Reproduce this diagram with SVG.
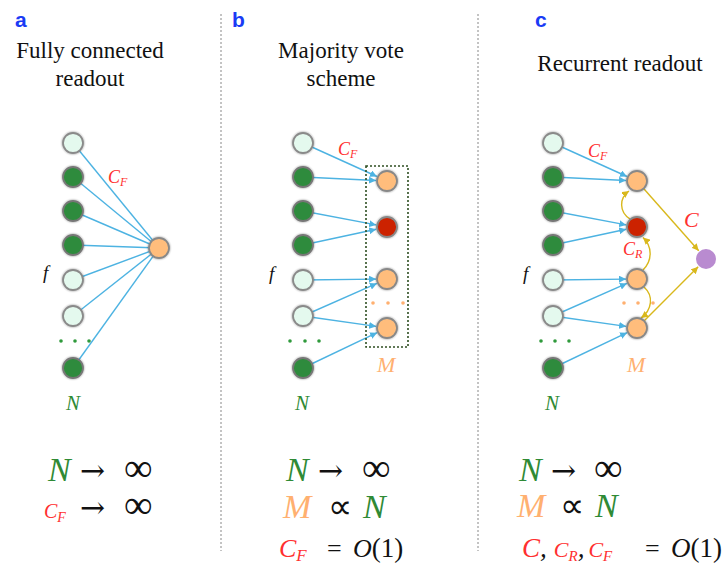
<svg xmlns="http://www.w3.org/2000/svg" width="725" height="565" viewBox="0 0 725 565">
<style>
.title{font-size:23px;fill:#111;text-anchor:middle}
.lab{font-size:21px;font-weight:bold;fill:#1a3bf5}
.m{font-style:italic}
.sym{font-style:normal;fill:#111}
.up{font-style:normal;fill:#111}
.red{fill:#ff3030}
.grn{fill:#2f8a35}
.org{fill:#ffb070}
.blk{fill:#111}
.light{fill:#e4f9ee;stroke:#8a8a8a;stroke-width:1.8}
.dark{fill:#2e8b3c;stroke:#777;stroke-width:1.8}
.orange{fill:#ffbd7c;stroke:#888;stroke-width:1.8}
.rednode{fill:#cc2200;stroke:#888;stroke-width:1.8}
.purple{fill:#b98bd0}
.blue{stroke:#4db3e2;stroke-width:1.4;fill:none}
.bluea{stroke:#4db3e2;stroke-width:1.4;fill:none;marker-end:url(#ab)}
.yel{stroke:#d9b81c;stroke-width:1.4;fill:none;marker-end:url(#ay)}
.div{stroke:#888;stroke-width:1;stroke-dasharray:2 2}
.gdot{fill:#2f9a3c}
.odot{fill:#ffb070}
</style>
<defs>
<filter id="sh" x="-50%" y="-50%" width="200%" height="200%">
<feGaussianBlur in="SourceAlpha" stdDeviation="1.3"/>
<feComponentTransfer><feFuncA type="linear" slope="0.45"/></feComponentTransfer>
<feMerge><feMergeNode/><feMergeNode in="SourceGraphic"/></feMerge>
</filter>
<marker id="ab" viewBox="0 0 10 10" refX="10" refY="5" markerWidth="7" markerHeight="7" markerUnits="userSpaceOnUse" orient="auto"><path d="M0,0 L10,5 L0,10 z" fill="#4db3e2"/></marker>
<marker id="ay" viewBox="0 0 10 10" refX="10" refY="5" markerWidth="7" markerHeight="7" markerUnits="userSpaceOnUse" orient="auto"><path d="M0,0 L10,5 L0,10 z" fill="#d9b81c"/></marker>
</defs>
<rect width="725" height="565" fill="#fff"/>

<!-- dividers -->
<line class="div" x1="221" y1="14" x2="221" y2="551"/>
<line class="div" x1="478" y1="14" x2="478" y2="551"/>

<!-- panel labels and titles -->
<g font-family="Liberation Sans, Arial, sans-serif">
<text class="lab" x="15" y="27">a</text>
<text class="lab" x="232" y="27">b</text>
<text class="lab" x="535" y="27">c</text>
</g>
<g font-family="Liberation Serif, Times New Roman, serif">
<text class="title" x="90" y="58">Fully connected</text>
<text class="title" x="90" y="86">readout</text>
<text class="title" x="341" y="58">Majority vote</text>
<text class="title" x="341" y="86">scheme</text>
<text class="title" x="620" y="71">Recurrent readout</text>
</g>

<!-- connectors -->
<g id="connectors">
<g id="conn-a">
<line class="blue" x1="73" y1="143" x2="159" y2="248"/>
<line class="blue" x1="73" y1="177" x2="159" y2="248"/>
<line class="blue" x1="73" y1="211" x2="159" y2="248"/>
<line class="blue" x1="73" y1="245" x2="159" y2="248"/>
<line class="blue" x1="73" y1="280" x2="159" y2="248"/>
<line class="blue" x1="73" y1="316" x2="159" y2="248"/>
<line class="blue" x1="73" y1="368" x2="159" y2="248"/>
</g>
<g id="conn-b">
<line class="bluea" x1="303" y1="143" x2="377" y2="176.5"/>
<line class="bluea" x1="303" y1="177" x2="376" y2="180.5"/>
<line class="bluea" x1="303" y1="211" x2="376.2" y2="224.9"/>
<line class="bluea" x1="303" y1="245" x2="376.2" y2="229.3"/>
<line class="bluea" x1="303" y1="280" x2="376" y2="279.1"/>
<line class="bluea" x1="303" y1="316" x2="376.9" y2="283.4"/>
<line class="bluea" x1="303" y1="316" x2="376.1" y2="326.4"/>
<line class="bluea" x1="303" y1="368" x2="377.1" y2="332.7"/>
</g>
<g id="conn-c">
<line class="bluea" x1="553" y1="143" x2="627" y2="176.5"/>
<line class="bluea" x1="553" y1="177" x2="626" y2="180.5"/>
<line class="bluea" x1="553" y1="211" x2="626.2" y2="224.9"/>
<line class="bluea" x1="553" y1="245" x2="626.2" y2="229.3"/>
<line class="bluea" x1="553" y1="280" x2="626" y2="279.1"/>
<line class="bluea" x1="553" y1="316" x2="626.9" y2="283.4"/>
<line class="bluea" x1="553" y1="316" x2="626.1" y2="326.4"/>
<line class="bluea" x1="553" y1="368" x2="627.1" y2="332.7"/>
<line class="yel" x1="643.6" y1="188.5" x2="698.7" y2="250.8"/>
<line class="yel" x1="644" y1="321" x2="698.2" y2="266.8"/>
<path class="yel" d="M630,219 C619,212 619,198 629,191"/>
<path class="yel" d="M643,270 C653,260 652,246 643,237.5"/>
<path class="yel" d="M644,287 C654,296 652,310 641,318"/>
</g>
</g>

<!-- panel a nodes -->
<g id="a-in1"><circle class="light" filter="url(#sh)" cx="73" cy="143" r="10"/></g>
<g id="a-in2"><circle class="dark" filter="url(#sh)" cx="73" cy="177" r="10"/></g>
<g id="a-in3"><circle class="dark" filter="url(#sh)" cx="73" cy="211" r="10"/></g>
<g id="a-in4"><circle class="dark" filter="url(#sh)" cx="73" cy="245" r="10"/></g>
<g id="a-in5"><circle class="light" filter="url(#sh)" cx="73" cy="280" r="10"/></g>
<g id="a-in6"><circle class="light" filter="url(#sh)" cx="73" cy="316" r="10"/></g>
<g id="a-in7"><circle class="dark" filter="url(#sh)" cx="73" cy="368" r="10"/></g>
<g id="a-dots"><circle class="gdot" cx="61" cy="341" r="1.8"/><circle class="gdot" cx="75" cy="341" r="1.8"/><circle class="gdot" cx="89" cy="341" r="1.8"/></g>
<g id="a-out"><circle class="orange" filter="url(#sh)" cx="159" cy="248" r="10"/></g>

<!-- panel b nodes -->
<g id="b-box"><rect x="366" y="166" width="42" height="181" fill="none" stroke="#2f4f22" stroke-width="1.6" stroke-dasharray="2 2"/></g>
<g id="b-in1"><circle class="light" filter="url(#sh)" cx="303" cy="143" r="10"/></g>
<g id="b-in2"><circle class="dark" filter="url(#sh)" cx="303" cy="177" r="10"/></g>
<g id="b-in3"><circle class="dark" filter="url(#sh)" cx="303" cy="211" r="10"/></g>
<g id="b-in4"><circle class="dark" filter="url(#sh)" cx="303" cy="245" r="10"/></g>
<g id="b-in5"><circle class="light" filter="url(#sh)" cx="303" cy="280" r="10"/></g>
<g id="b-in6"><circle class="light" filter="url(#sh)" cx="303" cy="316" r="10"/></g>
<g id="b-in7"><circle class="dark" filter="url(#sh)" cx="303" cy="368" r="10"/></g>
<g id="b-dots"><circle class="gdot" cx="290" cy="341" r="1.8"/><circle class="gdot" cx="305" cy="341" r="1.8"/><circle class="gdot" cx="319" cy="341" r="1.8"/></g>
<g id="b-out1"><circle class="orange" filter="url(#sh)" cx="387" cy="181" r="10"/></g>
<g id="b-out2"><circle class="rednode" filter="url(#sh)" cx="387" cy="227" r="10"/></g>
<g id="b-out3"><circle class="orange" filter="url(#sh)" cx="387" cy="279" r="10"/></g>
<g id="b-odots"><circle class="odot" cx="373" cy="303" r="1.8"/><circle class="odot" cx="388" cy="303" r="1.8"/><circle class="odot" cx="403" cy="303" r="1.8"/></g>
<g id="b-out4"><circle class="orange" filter="url(#sh)" cx="387" cy="328" r="10"/></g>

<!-- panel c nodes -->
<g id="c-in1"><circle class="light" filter="url(#sh)" cx="553" cy="143" r="10"/></g>
<g id="c-in2"><circle class="dark" filter="url(#sh)" cx="553" cy="177" r="10"/></g>
<g id="c-in3"><circle class="dark" filter="url(#sh)" cx="553" cy="211" r="10"/></g>
<g id="c-in4"><circle class="dark" filter="url(#sh)" cx="553" cy="245" r="10"/></g>
<g id="c-in5"><circle class="light" filter="url(#sh)" cx="553" cy="280" r="10"/></g>
<g id="c-in6"><circle class="light" filter="url(#sh)" cx="553" cy="316" r="10"/></g>
<g id="c-in7"><circle class="dark" filter="url(#sh)" cx="553" cy="368" r="10"/></g>
<g id="c-dots"><circle class="gdot" cx="541" cy="341" r="1.8"/><circle class="gdot" cx="555" cy="341" r="1.8"/><circle class="gdot" cx="569" cy="341" r="1.8"/></g>
<g id="c-out1"><circle class="orange" filter="url(#sh)" cx="637" cy="181" r="10"/></g>
<g id="c-out2"><circle class="rednode" filter="url(#sh)" cx="637" cy="227" r="10"/></g>
<g id="c-out3"><circle class="orange" filter="url(#sh)" cx="637" cy="279" r="10"/></g>
<g id="c-odots"><circle class="odot" cx="624" cy="303" r="1.8"/><circle class="odot" cx="638" cy="303" r="1.8"/><circle class="odot" cx="653" cy="303" r="1.8"/></g>
<g id="c-out4"><circle class="orange" filter="url(#sh)" cx="637" cy="328" r="10"/></g>
<g id="c-read"><circle class="purple" cx="706" cy="259" r="10"/></g>

<g font-family="Liberation Serif, Times New Roman, serif">
<!-- diagram labels -->
<text class="m red" x="108" y="183" font-size="18">C<tspan font-size="12" dy="3">F</tspan></text>
<text class="m blk" x="43" y="279" font-size="19">f</text>
<text class="m grn" x="66" y="410" font-size="21">N</text>

<text class="m red" x="338" y="155" font-size="18">C<tspan font-size="12" dy="3">F</tspan></text>
<text class="m blk" x="269" y="280" font-size="19">f</text>
<text class="m grn" x="295" y="410" font-size="21">N</text>
<text class="m org" x="377" y="372" font-size="22">M</text>

<text class="m red" x="588" y="157" font-size="18">C<tspan font-size="12" dy="3">F</tspan></text>
<text class="m blk" x="523" y="280" font-size="19">f</text>
<text class="m grn" x="545" y="410" font-size="21">N</text>
<text class="m org" x="627" y="372" font-size="22">M</text>
<text class="m red" x="684" y="227" font-size="22">C</text>
<text class="m red" x="623" y="255" font-size="18">C<tspan font-size="12" dy="3">R</tspan></text>

<!-- formulas panel a -->
<text class="m" font-size="34" y="481"><tspan class="grn" x="48">N</tspan><tspan class="sym" x="80" font-family="DejaVu Serif, serif" font-size="30">→</tspan><tspan class="sym" x="124" font-size="40">∞</tspan></text>
<text class="m" font-size="20" y="518"><tspan class="red" x="44">C</tspan><tspan class="red" font-size="14" dy="4">F</tspan><tspan class="sym" x="80" dy="-4" font-family="DejaVu Serif, serif" font-size="30">→</tspan><tspan class="sym" x="124" font-size="40">∞</tspan></text>

<!-- formulas panel b -->
<text class="m" font-size="34" y="481"><tspan class="grn" x="286">N</tspan><tspan class="sym" x="318" font-family="DejaVu Serif, serif" font-size="30">→</tspan><tspan class="sym" x="362" font-size="40">∞</tspan></text>
<text class="m" font-size="34" y="518"><tspan class="org" x="283">M</tspan><tspan class="sym" x="328" font-size="34">∝</tspan><tspan class="grn" x="363">N</tspan></text>
<text class="m" font-size="26" y="557"><tspan class="red" x="279">C</tspan><tspan class="red" font-size="17" dy="4">F</tspan><tspan class="sym" x="327" dy="-4" font-size="26">=</tspan><tspan x="353" class="blk">O</tspan><tspan class="up" font-size="27">(1)</tspan></text>

<!-- formulas panel c -->
<text class="m" font-size="34" y="481"><tspan class="grn" x="519">N</tspan><tspan class="sym" x="551" font-family="DejaVu Serif, serif" font-size="30">→</tspan><tspan class="sym" x="594" font-size="40">∞</tspan></text>
<text class="m" font-size="34" y="517"><tspan class="org" x="517">M</tspan><tspan class="sym" x="560" font-size="34">∝</tspan><tspan class="grn" x="595">N</tspan></text>
<text class="m" font-size="27" y="557"><tspan class="red" x="522">C</tspan><tspan class="blk">,</tspan><tspan class="red" dx="7" font-size="22">C</tspan><tspan class="red" font-size="15" dy="4">R</tspan><tspan class="blk" dy="-4">,</tspan><tspan class="red" dx="4" font-size="22">C</tspan><tspan class="red" font-size="15" dy="4">F</tspan><tspan class="sym" x="645" dy="-4" font-size="26">=</tspan><tspan x="671" class="blk">O</tspan><tspan class="up" font-size="27">(1)</tspan></text>
</g>
</svg>
